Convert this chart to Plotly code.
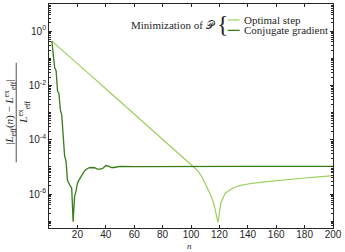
import plotly.graph_objects as go

# ---- data ----
n_opt = [2, 10, 20, 30, 40, 50, 60, 70, 80, 90, 100, 102, 104, 106, 108, 110, 112, 114,
         116, 117, 118, 119, 120, 121, 122, 124, 126, 128, 130, 135, 140, 150, 160, 170,
         180, 190, 200]
err_opt = [4.3e-1, 1.8e-1, 6.3e-2, 2.2e-2, 7.6e-3, 2.6e-3, 9.1e-4, 3.2e-4, 1.1e-4, 3.8e-5,
           1.32e-5, 1.05e-5, 7.9e-6, 5.9e-6, 4.0e-6, 2.4e-6, 1.5e-6, 8.9e-7,
           4.5e-7, 2.8e-7, 1.4e-7, 9.0e-8, 2.0e-7, 4.5e-7, 6.3e-7, 1.05e-6, 1.26e-6, 1.48e-6,
           1.7e-6, 2.1e-6, 2.35e-6, 2.75e-6, 3.15e-6, 3.55e-6, 3.9e-6, 4.3e-6, 4.8e-6]

n_cg = [2, 3, 4, 5, 6, 7, 8, 9, 10, 11, 12, 13, 14, 15, 16, 17, 18, 19, 20, 21, 22, 23,
        24, 25, 26, 27, 28, 30, 32, 34, 36, 38, 40, 42, 44, 46, 48, 50, 60, 80, 100, 120,
        140, 160, 180, 200]
err_cg = [4.3e-1, 1.3e-1, 4.5e-2, 3.5e-2, 6.3e-3, 5.0e-3, 1.26e-3, 7.9e-4, 7.9e-5, 2.5e-5,
          1.6e-5, 3.2e-6, 2.5e-6, 2.0e-6, 1.6e-6, 9.5e-8, 8.0e-7, 1.26e-6, 2.5e-6, 3.2e-6,
          4.0e-6, 5.0e-6, 5.6e-6, 7.1e-6, 7.9e-6, 8.9e-6, 9.3e-6, 9.5e-6, 9.3e-6, 8.3e-6,
          8.3e-6, 8.9e-6, 1.12e-5, 1.07e-5, 9.5e-6, 9.5e-6, 1.0e-5, 1.05e-5, 1.03e-5,
          1.05e-5, 1.05e-5, 1.05e-5, 1.05e-5, 1.05e-5, 1.05e-5, 1.05e-5]

x_ticks = [20, 40, 60, 80, 100, 120, 140, 160, 180, 200]
y_tick_exp = [0, -2, -4, -6]
y_tick_text = ["10<sup>0</sup>", "10<sup>-2</sup>", "10<sup>-4</sup>", "10<sup>-6</sup>"]

LIGHT = "#9ccf5c"
DARK = "#377d17"
AXC = "#262626"

y_tick_vals = [10 ** e for e in y_tick_exp]
minor_vals = [m * 10 ** e for e in range(-8, 2) for m in range(1, 10)]
minor_vals = [v for v in minor_vals if v not in y_tick_vals]

fig = go.Figure()
fig.add_trace(go.Scatter(x=n_opt, y=err_opt, mode="lines", name="Optimal step",
                         line=dict(color=LIGHT, width=1.2), showlegend=False))
fig.add_trace(go.Scatter(x=n_cg, y=err_cg, mode="lines", name="Conjugate gradient",
                         line=dict(color=DARK, width=1.3), showlegend=False))

fig.update_xaxes(range=[0, 200], tickvals=x_ticks, ticks="inside", ticklen=3,
                 showline=True, linecolor=AXC, linewidth=0.8, mirror="ticks",
                 showgrid=False, zeroline=False, tickcolor=AXC, ticklabelstandoff=-3,
                 tickfont=dict(family="Liberation Sans, Arial", size=10, color=AXC))
fig.update_yaxes(type="log", range=[-7.25, 1], tickvals=y_tick_vals, ticktext=y_tick_text,
                 ticks="inside", ticklen=3, showline=True, linecolor=AXC, linewidth=0.8,
                 mirror="ticks", showgrid=False, zeroline=False, tickcolor=AXC,
                 tickfont=dict(family="Liberation Sans, Arial", size=10, color=AXC),
                 minor=dict(tickvals=minor_vals, ticks="inside", ticklen=2, tickcolor=AXC,
                            showgrid=False))

L, R, T, B = 49, 10, 3, 24
W, H = 345, 252
pw, ph = W - L - R, H - T - B


def px(x):
    return (x - L) / pw


def py(y):
    return (H - B - y) / ph


serif = "Liberation Serif, DejaVu Serif, serif"
ann = []
# legend
ann.append(dict(x=px(219), y=py(24), xref="paper", yref="paper", xanchor="right",
                yanchor="middle", showarrow=False, text="Minimization of 𝒫",
                font=dict(family=serif, size=11, color=AXC)))
ann.append(dict(x=px(224), y=py(23.5), xref="paper", yref="paper", xanchor="center",
                yanchor="middle", showarrow=False, text="{",
                font=dict(family="Liberation Serif, serif", size=24, color=AXC)))
ann.append(dict(x=px(243), y=py(19), xref="paper", yref="paper", xanchor="left",
                yanchor="middle", showarrow=False, text="Optimal step",
                font=dict(family=serif, size=11, color=AXC)))
ann.append(dict(x=px(243), y=py(29.5), xref="paper", yref="paper", xanchor="left",
                yanchor="middle", showarrow=False, text="Conjugate gradient",
                font=dict(family=serif, size=11, color=AXC)))
# axis titles
ann.append(dict(x=px(190), y=py(246.5), xref="paper", yref="paper", xanchor="center",
                yanchor="middle", showarrow=False, text="<i>n</i>",
                font=dict(family=serif, size=9, color=AXC)))
ann.append(dict(x=px(9), y=py(112), xref="paper", yref="paper", xanchor="center",
                yanchor="middle", showarrow=False, textangle=-90,
                text="|<i>L</i><sub>eff</sub>(<i>n</i>) − <i>L</i><sup>ex</sup><sub>eff</sub>|",
                font=dict(family=serif, size=11, color=AXC)))
ann.append(dict(x=px(23), y=py(112), xref="paper", yref="paper", xanchor="center",
                yanchor="middle", showarrow=False, textangle=-90,
                text="<i>L</i><sup>ex</sup><sub>eff</sub>",
                font=dict(family=serif, size=11, color=AXC)))

shapes = [
    dict(type="line", xref="paper", yref="paper", x0=px(229), x1=px(241), y0=py(19), y1=py(19),
         line=dict(color=LIGHT, width=1.2)),
    dict(type="line", xref="paper", yref="paper", x0=px(229), x1=px(241), y0=py(29.5),
         y1=py(29.5), line=dict(color=DARK, width=1.3)),
    dict(type="line", xref="paper", yref="paper", x0=px(16), x1=px(16), y0=py(62), y1=py(162),
         line=dict(color=AXC, width=0.8)),
]

fig.update_layout(width=W, height=H, margin=dict(l=L, r=R, t=T, b=B),
                  plot_bgcolor="white", paper_bgcolor="white",
                  annotations=ann, shapes=shapes, showlegend=False)

fig.write_html("out.html", config={"displayModeBar": False},
               post_script="document.body.style.margin='0px';document.body.style.overflow='hidden';")
